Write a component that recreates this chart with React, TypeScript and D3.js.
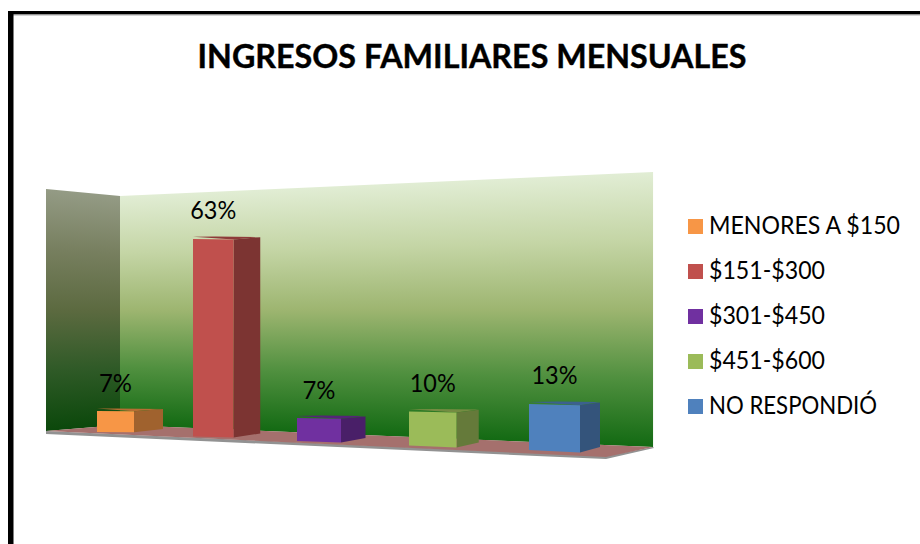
import React from "react";
import * as d3 from "d3";

const categories = ["MENORES A $150", "$151-$300", "$301-$450", "$451-$600", "NO RESPONDIÓ"];
const legendWidths = [191, 116, 116, 116, 168];
const values = [7, 63, 7, 10, 13];
const labelWidths = [33, 46, 33, 46, 46];
const frontColors = ["#F79646", "#C0504D", "#7030A0", "#9BBB59", "#4F81BD"];
const sideColors = ["#A0622E", "#7C3432", "#491F68", "#657A3A", "#34547B"];
const topColors = ["#B56E33", "#8E3B39", "#552478", "#748C42", "#3C618E"];
const title = "INGRESOS FAMILIARES MENSUALES";

const W = 920;
const H = 544;
const font = "Lato, 'Noto Sans', sans-serif";

// Projection of the 3D scene onto the page
const idx = d3.scaleLinear().domain([0, 4]).range([0, 4]);
const frontX = (i: number) => 97 + 92 * idx(i) + 4 * idx(i) * idx(i);
const frontW = d3.scaleLinear().domain([0, 4]).range([37, 51]);
const sideW = d3.scaleLinear().domain([0, 4]).range([29, 20]);
const baseY = d3.scaleLinear().domain([0, 4]).range([432, 450]);
const tilt = d3.scaleLinear().domain([0, 4]).range([0.3, 2.6]);
const unitH = d3.scaleLinear().domain([0, 4]).range([3.0, 3.54]);

const wallTop = d3.scaleLinear().domain([120, 653]).range([196, 172]);
const wallBottom = d3.scaleLinear().domain([120, 653]).range([425, 447]);
const leftTop = d3.scaleLinear().domain([46, 120]).range([189, 196]);
const leftBottom = d3.scaleLinear().domain([46, 120]).range([431, 425]);

const poly = (pts: [number, number][]) => d3.line()(pts) + "Z";

export default function App() {
  const wallXs = d3.range(120, 653);
  const leftXs = d3.range(46, 120);
  return (
    <svg width={W} height={H} viewBox={`0 0 ${W} ${H}`}
      style={{ position: "absolute", left: 0, top: 0, background: "#fff" }}>
      <defs>
        <linearGradient id="wall" x1="0" y1="0" x2="0" y2="1">
          <stop offset="0" stopColor="#E1EDD4" />
          <stop offset="0.25" stopColor="#C4D5A5" />
          <stop offset="0.5" stopColor="#9DB570" />
          <stop offset="0.75" stopColor="#50903F" />
          <stop offset="1" stopColor="#136A13" />
        </linearGradient>
        <linearGradient id="left" x1="0" y1="0" x2="0" y2="1">
          <stop offset="0" stopColor="#949B85" />
          <stop offset="0.25" stopColor="#777F5F" />
          <stop offset="0.5" stopColor="#5C6A40" />
          <stop offset="0.75" stopColor="#2F5A27" />
          <stop offset="1" stopColor="#0B480B" />
        </linearGradient>
      </defs>

      <rect x={13} y={11} width={W - 13} height={3.5} fill="#000" />
      <rect x={13} y={14.5} width={W - 13} height={1} fill="#aaa" />
      <rect x={8} y={11} width={5.5} height={H - 11} fill="#000" />

      <text x={472} y={67.5} textAnchor="middle" fontFamily={font} fontWeight={700} fontSize={32.5}
        stroke="#000" strokeWidth={0.4}
        textLength={549} lengthAdjust="spacingAndGlyphs" fill="#000">{title}</text>

      {leftXs.map((x) => (
        <rect key={x} x={x} y={leftTop(x + 0.5)} width={1.05}
          height={leftBottom(x + 0.5) - leftTop(x + 0.5)} fill="url(#left)" />
      ))}
      {wallXs.map((x) => (
        <rect key={x} x={x} y={wallTop(x + 0.5)} width={1.05}
          height={wallBottom(x + 0.5) - wallTop(x + 0.5)} fill="url(#wall)" />
      ))}

      <path d={poly([[46, 431], [606, 456], [606, 459], [46, 434]])} fill="#929292" />
      <path d={poly([[606, 456], [653, 447], [654, 448], [606, 459]])} fill="#929292" />
      <path d={poly([[46, 431], [120, 425], [653, 447], [606, 457]])} fill="#A5706D" />

      {values.map((v, i) => {
        const x0 = frontX(i);
        const x1 = x0 + frontW(i);
        const x2 = x1 + sideW(i);
        const yb = baseY(i);
        const h = v * unitH(i);
        const yt = yb - h;
        const t = tilt(i);
        const back = x0 + (x1 - x0) * 0.55;
        return (
          <g key={categories[i]}>
            <path d={poly([[x0, yt - 2.5 + t * 0.2], [back, yt - 2.5], [x2, yt - 2], [x1, yt + t * 0.5]])} fill={topColors[i]} />
            <path d={poly([[x1, yt + t * 0.5], [x2, yt - 2 + t * 0.2], [x2, yb - 3], [x1, yb + t]])} fill={sideColors[i]} />
            <path d={poly([[x0, yt], [x1, yt + t * 0.5], [x1, yb + t], [x0, yb]])} fill={frontColors[i]} />
            <text x={(x0 + x1) / 2} y={yt - 19.5} textAnchor="middle" fontFamily={font} fontSize={24.5}
              textLength={labelWidths[i]} lengthAdjust="spacingAndGlyphs" fill="#000">
              {`${v}%`}
            </text>
          </g>
        );
      })}

      {categories.map((c, i) => (
        <g key={c} transform={`translate(688,${219 + 45 * i})`}>
          <rect width={15} height={15} fill={frontColors[i]} />
          <text x={21} y={15} fontFamily={font} fontSize={24.5} fill="#000"
            textLength={legendWidths[i]} lengthAdjust="spacingAndGlyphs">{c}</text>
        </g>
      ))}
    </svg>
  );
}
